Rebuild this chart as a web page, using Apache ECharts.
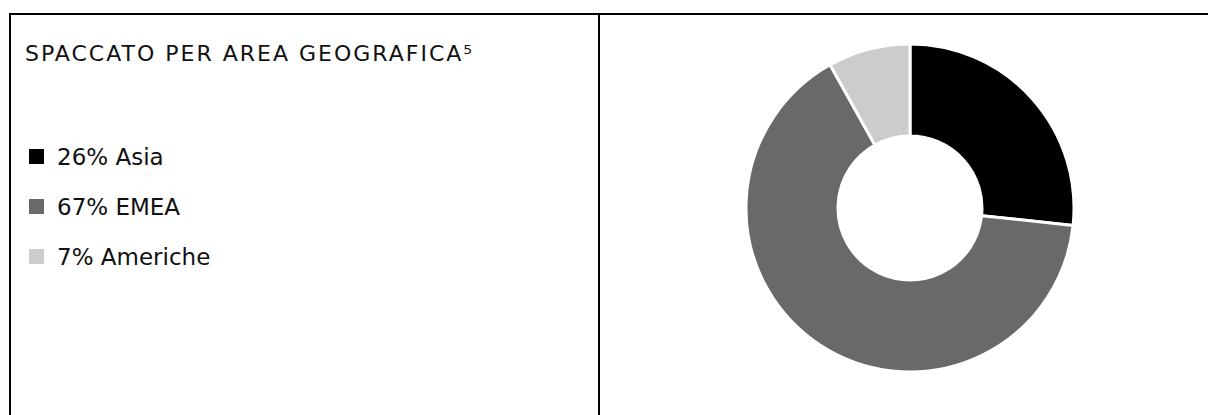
<!DOCTYPE html>
<html><head><meta charset="utf-8">
<script src="https://cdn.jsdelivr.net/npm/echarts@6/dist/echarts.min.js"></script>
<style>html,body{margin:0;padding:0;background:#fff}#c{width:1208px;height:415px}</style>
</head><body><div id="c"></div>
<script>
const titleText = 'SPACCATO PER AREA GEOGRAFICA';
const titleNote = '⁵';
const categories = ['Asia', 'EMEA', 'Americhe'];
const labelPercents = ['26%', '67%', '7%'];
const sliceValues = [26.7, 65.2, 8.1];
const colors = ['#000000', '#696969', '#cccccc'];

const FONT = '"DejaVu Sans", sans-serif';
const chart = echarts.init(document.getElementById('c'), null, {renderer: 'svg'});
const labelMap = {};
categories.forEach((c, i) => labelMap[c] = labelPercents[i] + ' ' + c);
const fullTitle = titleText + titleNote;

chart.setOption({
  animation: false,
  color: colors,
  title: {
    left: 20, top: 36, padding: 5,
    text: fullTitle,
    textStyle: {fontFamily: FONT, fontSize: 22, lineHeight: 24, color: '#111', fontWeight: 'normal'}
  },
  legend: {
    orient: 'vertical', left: 22, top: 140, padding: 5,
    icon: 'rect', itemWidth: 17, itemHeight: 17, itemGap: 27,
    data: categories,
    formatter: n => labelMap[n],
    textStyle: {fontFamily: FONT, fontSize: 23, lineHeight: 23, color: '#111', padding: [0, 0, 0, 7]},
    selectedMode: false
  },
  series: [{
    type: 'pie',
    center: [910, 208],
    radius: [72, 164],
    startAngle: 90,
    clockwise: true,
    label: {show: false}, labelLine: {show: false},
    silent: true,
    itemStyle: {borderColor: '#fff', borderWidth: 3},
    data: categories.map((c, i) => ({name: c, value: sliceValues[i]}))
  }],
  graphic: [
    {type: 'rect', shape: {x: 9, y: 13, width: 1199, height: 2}, style: {fill: '#000'}},
    {type: 'rect', shape: {x: 9, y: 13, width: 2, height: 402}, style: {fill: '#000'}},
    {type: 'rect', shape: {x: 598, y: 13, width: 2, height: 402}, style: {fill: '#000'}}
  ]
});
document.querySelectorAll('#c svg text').forEach(t => {
  if (t.textContent === fullTitle) t.style.letterSpacing = '2px';
});
</script></body></html>
